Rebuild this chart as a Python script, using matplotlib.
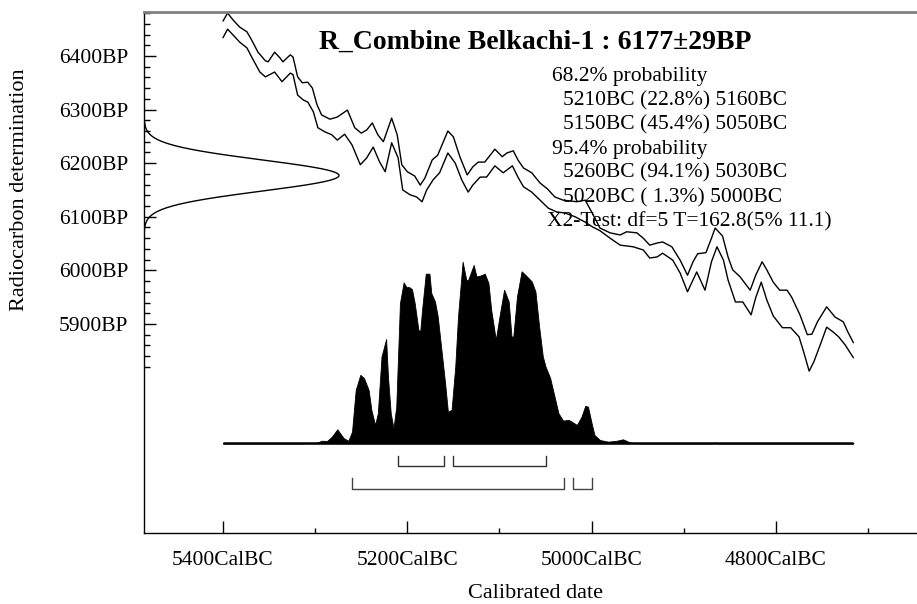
import numpy as np
import matplotlib
matplotlib.use("Agg")
import matplotlib.pyplot as plt
from matplotlib import transforms
from matplotlib.ticker import FixedLocator, FuncFormatter

plt.rcParams['font.family'] = ['Liberation Serif', 'DejaVu Serif']

# --- radiocarbon determination ---
c14_mean = 6177
c14_sigma = 29

# --- calibration curve (upper and lower 1-sigma envelope), cal BC vs BP ---
upper_bc = [5400, 5395, 5389, 5382, 5374, 5369, 5362, 5354, 5351, 5344, 5338, 5335,
            5327, 5324, 5319, 5314, 5308, 5303, 5298, 5293, 5284, 5276, 5265, 5257,
            5250, 5244, 5238, 5232, 5226, 5217, 5211, 5206, 5200, 5192, 5186, 5181,
            5173, 5167, 5156, 5150, 5143, 5135, 5129, 5123, 5116, 5105, 5097, 5092,
            5085, 5080, 5074, 5065, 5056, 5048, 5040, 5031, 5016, 5007, 5000, 4991,
            4980, 4969, 4962, 4951, 4944, 4937, 4929, 4923, 4913, 4904, 4896, 4890,
            4885, 4876, 4870, 4866, 4858, 4852, 4847, 4839, 4828, 4822, 4815, 4810,
            4803, 4796, 4788, 4783, 4774, 4766, 4761, 4755, 4745, 4736, 4727, 4722,
            4716]
upper_bp = [6465, 6480, 6467, 6454, 6445, 6430, 6407, 6391, 6389, 6407, 6396, 6389,
            6402, 6398, 6361, 6350, 6351, 6340, 6309, 6290, 6282, 6286, 6299, 6266,
            6256, 6262, 6275, 6253, 6240, 6284, 6253, 6197, 6184, 6176, 6159, 6172,
            6206, 6215, 6260, 6249, 6212, 6178, 6193, 6202, 6202, 6226, 6212, 6219,
            6223, 6206, 6191, 6182, 6163, 6152, 6137, 6131, 6128, 6131, 6109, 6079,
            6070, 6066, 6072, 6070, 6060, 6047, 6051, 6053, 6044, 6019, 5991, 6016,
            6031, 6033, 6060, 6079, 6064, 6025, 6001, 5988, 5963, 5991, 6016, 6001,
            5978, 5963, 5963, 5950, 5917, 5880, 5881, 5904, 5932, 5913, 5904, 5885,
            5865]

lower_bc = [5400, 5395, 5389, 5382, 5374, 5367, 5360, 5354, 5344, 5336, 5327, 5324,
            5319, 5313, 5308, 5302, 5297, 5289, 5282, 5276, 5268, 5260, 5251, 5244,
            5237, 5230, 5224, 5217, 5210, 5205, 5197, 5190, 5184, 5179, 5172, 5165,
            5156, 5148, 5141, 5134, 5129, 5121, 5114, 5105, 5096, 5086, 5080, 5074,
            5065, 5056, 5047, 5038, 5029, 5018, 5007, 4999, 4991, 4980, 4969, 4955,
            4944, 4937, 4929, 4923, 4912, 4904, 4896, 4886, 4877, 4870, 4864, 4857,
            4852, 4844, 4836, 4827, 4822, 4816, 4810, 4803, 4793, 4784, 4775, 4770,
            4764, 4759, 4752, 4745, 4738, 4732, 4725, 4716]
lower_bp = [6434, 6450, 6439, 6426, 6415, 6392, 6370, 6361, 6370, 6352, 6368, 6365,
            6327, 6318, 6314, 6296, 6266, 6258, 6253, 6243, 6254, 6234, 6197, 6210,
            6230, 6202, 6184, 6238, 6210, 6150, 6141, 6137, 6128, 6150, 6169, 6182,
            6219, 6200, 6169, 6146, 6159, 6174, 6174, 6195, 6182, 6195, 6174, 6156,
            6146, 6131, 6116, 6109, 6107, 6100, 6090, 6081, 6074, 6060, 6047, 6044,
            6038, 6023, 6025, 6032, 6019, 5995, 5960, 5997, 5963, 6016, 6044, 6019,
            5982, 5941, 5941, 5917, 5949, 5978, 5945, 5915, 5893, 5893, 5876, 5848,
            5812, 5829, 5861, 5894, 5885, 5876, 5861, 5837]

# --- calibrated probability distribution (relative) ---
prob_bc = [5400, 5316, 5298, 5293, 5287, 5282, 5276, 5269, 5264, 5260, 5256, 5251,
           5247, 5242, 5239, 5235, 5232, 5228, 5223, 5221, 5218, 5215, 5212, 5208,
           5204, 5201, 5198, 5195, 5192, 5188, 5186, 5184, 5180, 5176, 5174, 5170,
           5167, 5163, 5159, 5156, 5152, 5148, 5145, 5140, 5136, 5134, 5132, 5128,
           5125, 5121, 5116, 5112, 5109, 5104, 5100, 5095, 5090, 5087, 5085, 5081,
           5076, 5071, 5065, 5061, 5057, 5053, 5050, 5045, 5042, 5036, 5031, 5025,
           5020, 5016, 5011, 5007, 5004, 5000, 4997, 4991, 4982, 4973, 4966, 4958,
           4948, 4870, 4866, 4863, 4716]
prob_val = [0, 0, 0.003, 0.014, 0.013, 0.036, 0.077, 0.028, 0.014, 0.064, 0.294, 0.377,
            0.359, 0.294, 0.184, 0.101, 0.165, 0.478, 0.574, 0.367, 0.165, 0.083, 0.202, 0.772,
            0.886, 0.860, 0.860, 0.849, 0.772, 0.625, 0.616, 0.735, 0.934, 0.934, 0.827, 0.781,
            0.698, 0.515, 0.331, 0.174, 0.184, 0.422, 0.698, 1.0, 0.899, 0.899, 0.927, 0.982,
            0.919, 0.923, 0.934, 0.883, 0.735, 0.570, 0.698, 0.846, 0.781, 0.588, 0.588, 0.809,
            0.947, 0.923, 0.891, 0.836, 0.643, 0.478, 0.422, 0.359, 0.294, 0.165, 0.125, 0.129,
            0.114, 0.101, 0.147, 0.206, 0.202, 0.110, 0.046, 0.018, 0.009, 0.014, 0.022, 0.004,
            0, 0, 0.004, 0, 0]

# --- highest probability ranges ---
ranges_68 = [(5210, 5160), (5150, 5050)]
ranges_95 = [(5260, 5030), (5020, 5000)]

title_text = "R_Combine Belkachi-1 : 6177\u00b129BP"
info_lines = [
    ("68.2% probability", 552),
    ("5210BC (22.8%) 5160BC", 563),
    ("5150BC (45.4%) 5050BC", 563),
    ("95.4% probability", 552),
    ("5260BC (94.1%) 5030BC", 563),
    ("5020BC ( 1.3%) 5000BC", 563),
    ("X2-Test: df=5 T=162.8(5% 11.1)", 547),
]

x_major = [5400, 5200, 5000, 4800]
x_minor = [5300, 5100, 4900, 4700]
y_major = [5900, 6000, 6100, 6200, 6300, 6400]
y_minor = list(range(5820, 6481, 20))

W, H = 917, 604
fig = plt.figure(figsize=(W / 100, H / 100), dpi=100)
rect = [144 / W, (H - 533) / H, (W - 144) / W, 521 / H]
ax = fig.add_axes(rect)

ax.set_xlim(5485.7, 4647)
ax.set_ylim(5510, 6482)

ax.spines['right'].set_visible(False)
ax.spines['top'].set_color('#808080')
ax.spines['top'].set_linewidth(2.0)
ax.spines['left'].set_linewidth(1.0)
ax.spines['bottom'].set_linewidth(1.0)

ax.xaxis.set_major_locator(FixedLocator(x_major))
ax.xaxis.set_minor_locator(FixedLocator(x_minor))
ax.xaxis.set_major_formatter(FuncFormatter(lambda v, p: f"{int(round(v))}CalBC"))
ax.yaxis.set_major_locator(FixedLocator(y_major))
ax.yaxis.set_minor_locator(FixedLocator([v for v in y_minor if v not in y_major]))
ax.yaxis.set_major_formatter(FuncFormatter(lambda v, p: f"{int(round(v))}BP"))

ax.tick_params(axis='x', which='both', direction='in', top=False, bottom=True)
ax.tick_params(axis='x', which='major', length=8.5, width=1, pad=13, labelsize=15.5)
ax.tick_params(axis='x', which='minor', length=3.8, width=1)
ax.tick_params(axis='y', which='both', direction='in', right=False, left=True)
ax.tick_params(axis='y', which='major', length=8.8, width=1, pad=11.5, labelsize=15.5)
ax.tick_params(axis='y', which='minor', length=4.5, width=1)

# calibration curve envelope
line_kw = dict(color='black', lw=1.0, solid_joinstyle='round', solid_capstyle='round')
ax.plot(upper_bc, upper_bp, **line_kw)
ax.plot(lower_bc, lower_bp, **line_kw)

# radiocarbon determination as a normal curve against the y axis
bp = np.linspace(c14_mean - 4 * c14_sigma, c14_mean + 4 * c14_sigma, 300)
dens = np.exp(-0.5 * ((bp - c14_mean) / c14_sigma) ** 2)
gtrans = transforms.blended_transform_factory(ax.transAxes, ax.transData)
ax.plot(dens * 195 / 773, bp, color='black', lw=1.0, transform=gtrans)

# probability distribution on an overlay axes sharing the calendar scale
ax2 = fig.add_axes(rect, sharex=ax)
ax2.set_ylim(-0.494, 2.375)
ax2.patch.set_alpha(0)
ax2.axis('off')
ax2.fill_between(prob_bc, 0, prob_val, color='black', lw=0.6, edgecolor='black')
ax2.plot([prob_bc[0], prob_bc[-1]], [0, 0], color='black', lw=1.8, solid_capstyle='butt')

for (a, b) in ranges_68:
    ax2.plot([a, a, b, b], [-0.069, -0.125, -0.125, -0.069], color='#333333', lw=1.0)
for (a, b) in ranges_95:
    ax2.plot([a, a, b, b], [-0.193, -0.251, -0.251, -0.193], color='#444444', lw=1.0)

# texts
fig.text(535.5 / W, 1 - 49 / H, title_text, ha='center', va='baseline',
         fontsize=20, fontweight='bold')
for i, (line, xpx) in enumerate(info_lines):
    fig.text(xpx / W, 1 - (81 + 24.2 * i) / H, line, ha='left', va='baseline',
             fontsize=15.5)
fig.text(20 / W, 1 - 190 / H, "Radiocarbon determination", rotation=90,
         ha='center', va='center', fontsize=16)
fig.text(536 / W, 1 - 598 / H, "Calibrated date", ha='center', va='baseline',
         fontsize=16)

fig.savefig("out.png", dpi=100)
